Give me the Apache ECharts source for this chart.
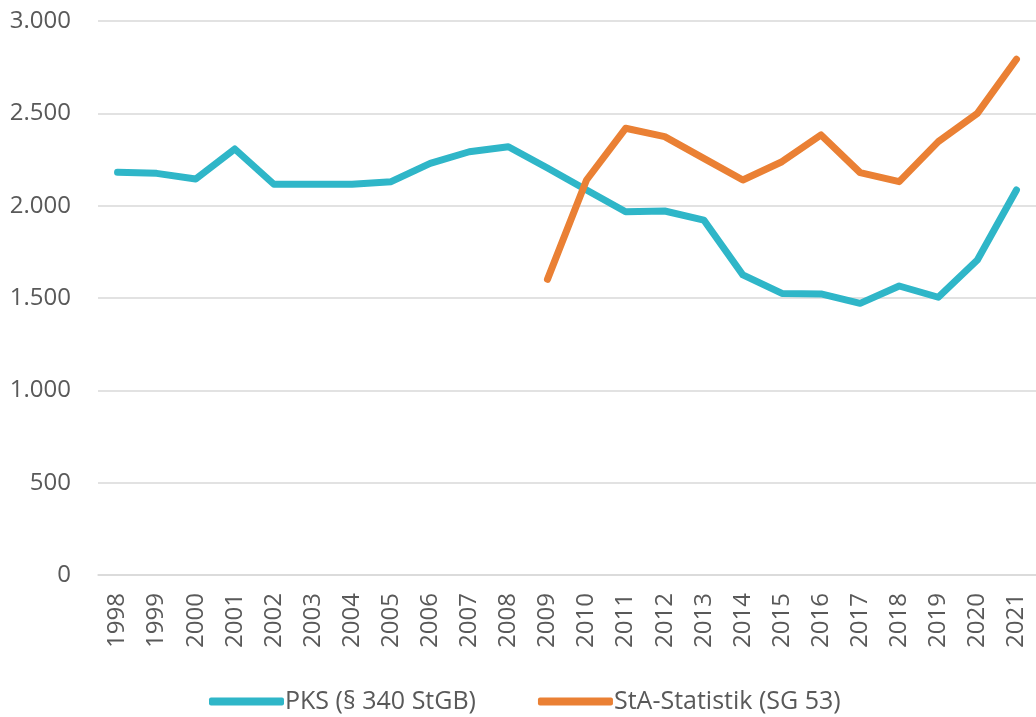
<!DOCTYPE html>
<html>
<head>
<meta charset="utf-8">
<script src="https://cdn.jsdelivr.net/npm/echarts@6/dist/echarts.min.js"></script>
<style>
html, body { margin: 0; padding: 0; background: #fff; }
#chart { width: 1036px; height: 717px; }
</style>
</head>
<body>
<div id="chart"></div>
<script>
var years = ['1998', '1999', '2000', '2001', '2002', '2003', '2004', '2005', '2006', '2007', '2008', '2009',
    '2010', '2011', '2012', '2013', '2014', '2015', '2016', '2017', '2018', '2019', '2020', '2021'];
var pksValues = [2181, 2175, 2144, 2307, 2116, 2116, 2116, 2130, 2229, 2292, 2319, 2204,
    2085, 1967, 1971, 1922, 1625, 1525, 1522, 1471, 1565, 1504, 1706, 2085];
var staValues = [null, null, null, null, null, null, null, null, null, null, null, 1601,
    2139, 2419, 2374, 2256, 2139, 2238, 2383, 2179, 2130, 2347, 2500, 2793];
var seriesNames = ['PKS (§ 340 StGB)', 'StA-Statistik (SG 53)'];

var chart = echarts.init(document.getElementById('chart'));
var font = '"Open Sans", sans-serif';

var option = {
    animation: false,
    textStyle: { fontFamily: font },
    grid: {
        left: 98,
        right: 0,
        top: 21,
        bottom: 142
    },
    legend: {
        left: 204,
        top: 684,
        icon: 'roundRect',
        itemWidth: 75,
        itemHeight: 8,
        itemGap: 62,
        textStyle: {
            fontFamily: font,
            fontSize: 25,
            color: '#595959',
            padding: [0, 0, 0, -4]
        },
        data: seriesNames
    },
    xAxis: {
        type: 'category',
        data: years,
        boundaryGap: true,
        axisLine: { show: true, lineStyle: { color: '#d9d9d9', width: 1.5 } },
        axisTick: { show: false },
        axisLabel: {
            rotate: 90,
            interval: 0,
            margin: 18,
            fontSize: 24,
            color: '#595959',
            fontFamily: font
        }
    },
    yAxis: {
        type: 'value',
        min: 0,
        max: 3000,
        interval: 500,
        axisLine: { show: false },
        axisTick: { show: false },
        splitLine: { lineStyle: { color: '#d9d9d9', width: 1.5 } },
        axisLabel: {
            margin: 27,
            fontSize: 24,
            color: '#595959',
            fontFamily: font,
            formatter: function (v) {
                return v >= 1000 ? Math.floor(v / 1000) + '.' + ('00' + (v % 1000)).slice(-3) : String(v);
            }
        }
    },
    series: [{
        name: seriesNames[0],
        type: 'line',
        data: pksValues,
        symbol: 'none',
        lineStyle: { color: '#2fb6c8', width: 7, cap: 'round', join: 'round' },
        itemStyle: { color: '#2fb6c8' }
    }, {
        name: seriesNames[1],
        type: 'line',
        data: staValues,
        symbol: 'none',
        lineStyle: { color: '#ea8034', width: 7, cap: 'round', join: 'round' },
        itemStyle: { color: '#ea8034' }
    }]
};
chart.setOption(option);
</script>
</body>
</html>
